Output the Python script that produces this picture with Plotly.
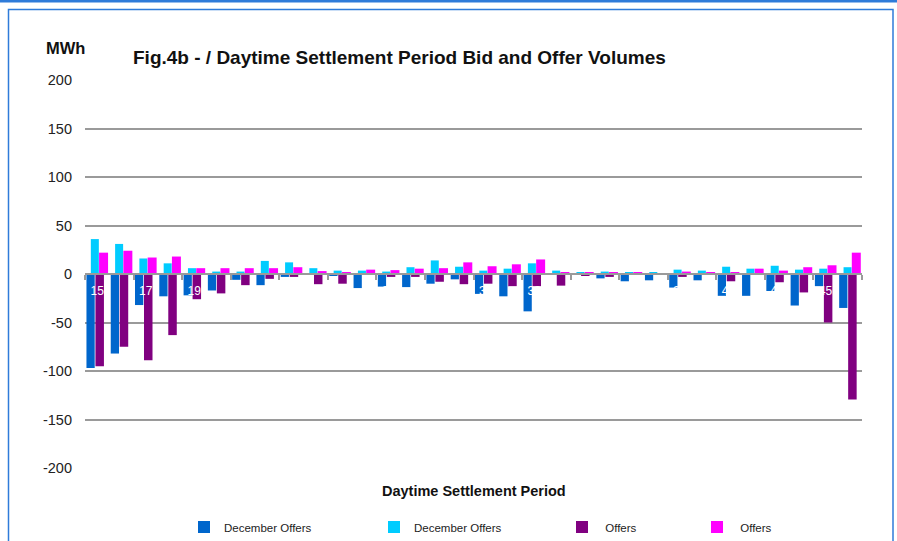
import plotly.graph_objects as go

# ---- data ----
periods = list(range(15, 47))
tick_vals = list(range(15, 46, 2))
tick_text = [str(v) for v in tick_vals]
boundary_ticks = [v - 0.5 for v in range(15, 48, 2)]
y_tick_vals = [200, 150, 100, 50, 0, -50, -100, -150, -200]
y_tick_text = ["200", "150", "100", "50", "0", "-50", "-100", "-150", "-200"]

dec_bids = [-97, -82, -32, -23, -22, -17, -6, -11.5, -3, -0.5, -1.5, -14.5, -13, -13.5, -10, -5.5,
            -20.5, -23, -38.5, -0.5, -0.5, -4.5, -7.5, -6.5, -14, -6.5, -22.5, -22.5, -17.5, -32.5, -12.5, -35]
dec_offers = [36, 31, 16, 11, 6, 2.5, 2.5, 13.5, 12, 6, 3.5, 3.5, 2.5, 7, 14, 7.5,
              3.5, 5.5, 11, 3.5, 1.5, 2.5, 1.5, 1.5, 4.5, 3.5, 7.5, 5.5, 8.5, 4.5, 5.5, 7]
bids = [-95, -75, -89, -63, -26, -20, -11.5, -5, -3, -10.5, -10, -1, -3, -3, -8, -10.5,
        -10, -12.5, -12.5, -12, -1.5, -3, -0.5, -1, -3, -0.5, -7.5, -1, -8.5, -19, -50, -129.5]
offers = [22, 24, 17, 18, 6, 6, 6, 6, 7, 3, 1.5, 4.5, 4, 5.5, 6, 12,
          8, 10, 15, 2, 1.5, 1.5, 1.5, 1, 2.5, 1.5, 1.5, 5.5, 3.5, 7, 9, 22]

series_names = ["December Offers", "December Offers", " Offers", " Offers"]
series_colors = ["#0066CC", "#00CCFF", "#800080", "#FF00FF"]

FONT = "Liberation Sans, Arial, sans-serif"
W, H = 897, 541
L, R, T, B = 85, 35, 80, 73

fig = go.Figure()
specs = [
    (dec_bids, -0.44, 0.34),
    (dec_offers, -0.26, 0.33),
    (bids, -0.07, 0.35),
    (offers, 0.08, 0.37),
]
legend_ids = ["legend", "legend2", "legend3", "legend4"]
for (vals, off, wd), name, col, lg in zip(specs, series_names, series_colors, legend_ids):
    fig.add_trace(go.Bar(
        x=periods, y=vals, name=name, offset=off, width=wd,
        marker=dict(color=col, line=dict(width=0)),
        legend=lg,
    ))

# legends placed individually
legend_text_px = [226, 416, 604, 739]
legend_common = dict(xref="container", yref="container", yanchor="middle", xanchor="left",
                     bgcolor="rgba(0,0,0,0)", font=dict(family=FONT, size=11.5, color="#222"),
                     itemwidth=30, tracegroupgap=0)
for lg, px in zip(legend_ids, legend_text_px):
    fig.update_layout(**{lg: dict(x=(px - 42) / W, y=1 - 527 / H, **legend_common)})

def px_x(px):
    return (px - L) / (W - L - R)

def px_y(py):
    return (H - B - py) / (H - T - B)

fig.update_layout(
    width=W, height=H,
    margin=dict(l=L, r=R, t=T, b=B, autoexpand=False),
    paper_bgcolor="white", plot_bgcolor="white",
    barmode="overlay",
    showlegend=True,
    font=dict(family=FONT, color="#222"),
    title=dict(text="<b>Fig.4b - / Daytime Settlement Period Bid and Offer Volumes</b>",
               x=133 / W, xanchor="left", xref="container",
               y=1 - 57 / H, yanchor="middle", yref="container",
               font=dict(family=FONT, size=19, color="#111")),
    xaxis=dict(
        range=[14.5, 46.5], anchor="free", position=0.5,
        showgrid=False, zeroline=False,
        showline=True, linecolor="#9a9a9a", linewidth=2,
        tickmode="array", tickvals=tick_vals, ticktext=tick_text,
        ticks="", ticklabelstandoff=6,
        tickfont=dict(family=FONT, size=12, color="white"),
        minor=dict(tickmode="array", tickvals=boundary_ticks, ticks="outside",
                   ticklen=5, tickcolor="#9a9a9a", tickwidth=1.5, showgrid=False),
        layer="above traces",
    ),
    yaxis=dict(
        range=[-200, 200],
        tickmode="array", tickvals=y_tick_vals, ticktext=y_tick_text,
        showgrid=True, gridcolor="#9a9a9a", gridwidth=1.5,
        zeroline=False, showline=False, ticks="",
        ticklabelstandoff=12,
        tickfont=dict(family=FONT, size=14.5, color="#222"),
    ),
)

fig.add_annotation(text="<b>MWh</b>", xref="paper", yref="paper",
                   x=px_x(65), y=px_y(48), xanchor="center", yanchor="middle",
                   showarrow=False, font=dict(family=FONT, size=16.5, color="#111"))
fig.add_annotation(text="<b>Daytime Settlement Period</b>", xref="paper", yref="paper",
                   x=0.5, y=px_y(491), xanchor="center", yanchor="middle",
                   showarrow=False, font=dict(family=FONT, size=14.5, color="#111"))

# frame decoration
fig.add_shape(type="rect", xref="paper", yref="paper",
              x0=px_x(8.5), x1=px_x(893), y0=px_y(560), y1=px_y(9.5),
              line=dict(color="#2F7BD9", width=1.5), fillcolor="rgba(0,0,0,0)", layer="below")
fig.add_shape(type="rect", xref="paper", yref="paper",
              x0=px_x(0), x1=px_x(897), y0=px_y(2.5), y1=px_y(0),
              line=dict(width=0), fillcolor="#2F7BD9", layer="below")

fig.write_html("out.html", config={"displayModeBar": False},
               post_script="document.body.style.margin='0px';")
